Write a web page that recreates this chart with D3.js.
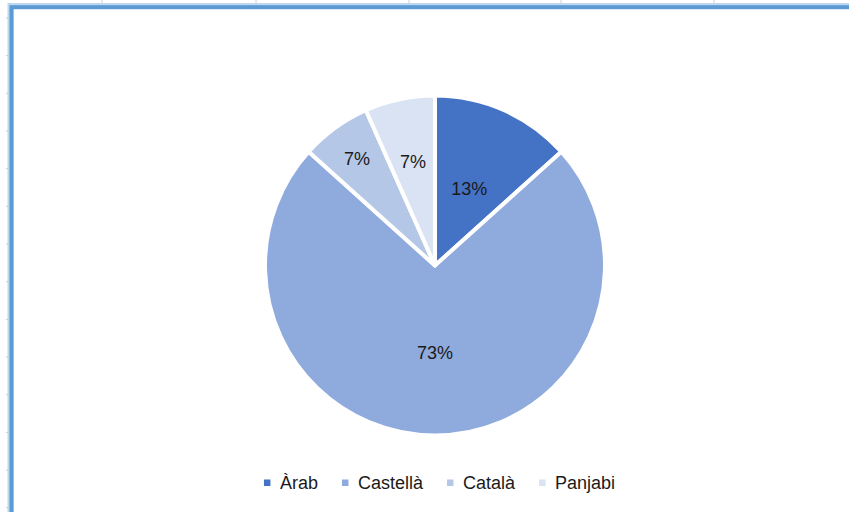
<!DOCTYPE html>
<html>
<head>
<meta charset="utf-8">
<script src="https://cdn.jsdelivr.net/npm/d3@7"></script>
<style>
    body { margin: 0; background: #ffffff; }
    svg { display: block; }
</style>
</head>
<body>
<script>
// Data
var languages = ["Àrab", "Castellà", "Català", "Panjabi"];
var speakers = [2, 11, 1, 1];
var colours = ["#4472C4", "#8FAADC", "#B4C7E7", "#DAE3F3"];

// Where each % label sits, as a part of the radius (Excel best fit)
var labelPlace = [0.5, 0.52, 0.79, 0.63];

// Width and height
var boxWidth = 849;
var boxHeight = 512;
var cx = 435;
var cy = 265.5;
var radius = 170;

function d3Draw() {
    var svg = d3.select("body")
        .append("svg")
        .attr("width", boxWidth)
        .attr("height", boxHeight);

    svg.append("rect")
        .attr("width", boxWidth)
        .attr("height", boxHeight)
        .attr("fill", "#ffffff");

    // spreadsheet grid peeking out round the chart
    var colLines = [102, 256, 409, 561, 714];
    svg.selectAll("line.col").data(colLines).enter()
        .append("line")
        .attr("class", "col")
        .attr("x1", function (d) { return d; })
        .attr("x2", function (d) { return d; })
        .attr("y1", 0)
        .attr("y2", 6)
        .attr("stroke", "#d0d0d0")
        .attr("stroke-width", 1);

    var rowLines = d3.range(18, 512, 37.67);
    svg.selectAll("line.row").data(rowLines).enter()
        .append("line")
        .attr("class", "row")
        .attr("x1", 6)
        .attr("x2", 9)
        .attr("y1", function (d) { return d; })
        .attr("y2", function (d) { return d; })
        .attr("stroke", "#c8c8c8")
        .attr("stroke-width", 1);

    // selection border of the chart object
    svg.append("rect")
        .attr("x", 10.5)
        .attr("y", 6)
        .attr("width", boxWidth + 20)
        .attr("height", boxHeight + 20)
        .attr("fill", "none")
        .attr("stroke", "#BDD7EE")
        .attr("stroke-width", 6);
    svg.append("rect")
        .attr("x", 11.5)
        .attr("y", 7.2)
        .attr("width", boxWidth + 20)
        .attr("height", boxHeight + 20)
        .attr("fill", "none")
        .attr("stroke", "#5B9BD5")
        .attr("stroke-width", 4);

    var colour = d3.scaleOrdinal()
        .domain(languages)
        .range(colours);

    var pie = d3.pie()
        .sort(null)
        .value(function (d, i) { return speakers[i]; });

    var arcs = pie(languages);
    var total = d3.sum(speakers);

    var arc = d3.arc()
        .innerRadius(0)
        .outerRadius(radius);

    var g = svg.append("g")
        .attr("transform", "translate(" + cx + "," + cy + ")");

    g.selectAll("path").data(arcs).enter()
        .append("path")
        .attr("d", arc)
        .attr("fill", function (d) { return colour(d.data); })
        .attr("stroke", "#ffffff")
        .attr("stroke-width", 4)
        .attr("stroke-linejoin", "round");

    g.selectAll("text").data(arcs).enter()
        .append("text")
        .attr("transform", function (d, i) {
            var r = (radius - 2) * labelPlace[i];
            var c = d3.arc().innerRadius(r).outerRadius(r).centroid(d);
            return "translate(" + c[0] + "," + c[1] + ")";
        })
        .attr("text-anchor", "middle")
        .attr("dy", "0.36em")
        .attr("font-family", "'Liberation Sans', Arial, sans-serif")
        .attr("font-size", "18px")
        .attr("fill", "#1a1a1a")
        .text(function (d) {
            return Math.round(d.value / total * 100) + "%";
        });

    // Legend
    var legend = svg.append("g");
    var items = legend.selectAll("g").data(languages).enter()
        .append("g");

    items.append("rect")
        .attr("width", 6.5)
        .attr("height", 6.5)
        .attr("y", -9.5)
        .attr("fill", function (d) { return colour(d); });

    items.append("text")
        .attr("x", 16)
        .attr("font-family", "'Liberation Sans', Arial, sans-serif")
        .attr("font-size", "18px")
        .attr("fill", "#1a1a1a")
        .text(function (d) { return d; });

    var x = 0;
    items.each(function () {
        var w = 16 + d3.select(this).select("text").node().getComputedTextLength();
        d3.select(this).attr("transform", "translate(" + x + ",0)");
        x += w + 24;
    });
    var legendWidth = x - 24;
    legend.attr("transform", "translate(" + (439.5 - legendWidth / 2) + ",489)");
}

window.onload = d3Draw;
</script>
</body>
</html>
